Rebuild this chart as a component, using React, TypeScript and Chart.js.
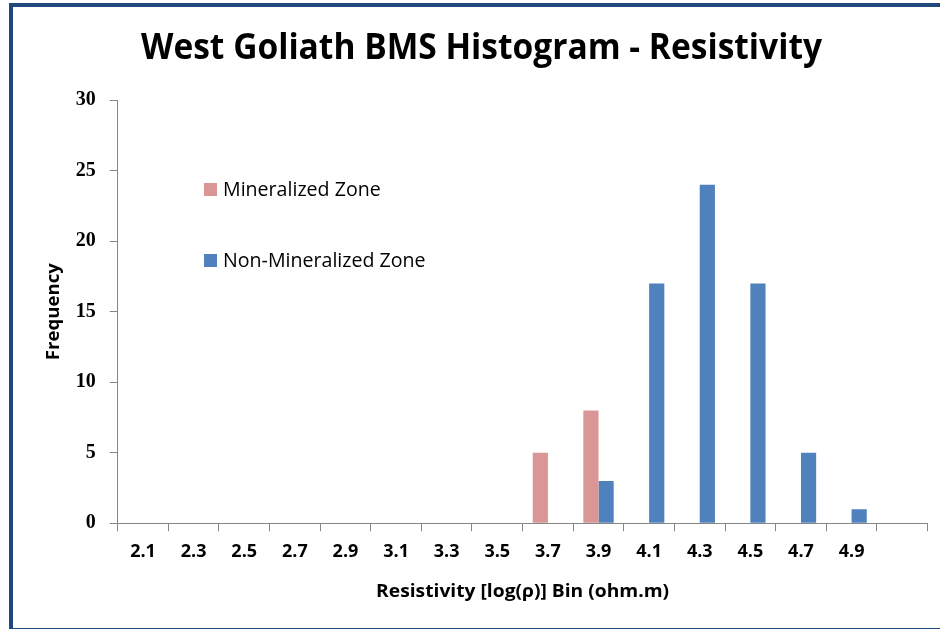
import React, { useEffect, useRef } from 'react';
import { Chart, registerables } from 'chart.js';

Chart.register(...registerables);

const categories = ['2.1', '2.3', '2.5', '2.7', '2.9', '3.1', '3.3', '3.5', '3.7', '3.9', '4.1', '4.3', '4.5', '4.7', '4.9', ''];
const mineralized = [0, 0, 0, 0, 0, 0, 0, 0, 5, 8, 0, 0, 0, 0, 0, 0];
const nonMineralized = [0, 0, 0, 0, 0, 0, 0, 0, 0, 3, 17, 24, 17, 5, 1, 0];
const seriesNames = ['Mineralized Zone', 'Non-Mineralized Zone'];
const seriesColors = ['#D99694', '#4F81BD'];
const yMin = 0;
const yMax = 30;
const yStep = 5;
const chartTitle = 'West Goliath BMS Histogram - Resistivity';
const xTitle = 'Resistivity [log(\u03C1)] Bin (ohm.m)';
const yTitle = 'Frequency';

const AXIS_GRAY = '#868686';

function drawFitted(
  ctx: CanvasRenderingContext2D,
  text: string,
  x: number,
  y: number,
  font: string,
  width: number,
  rotate = 0,
  baseline: CanvasTextBaseline = 'alphabetic'
) {
  ctx.save();
  ctx.font = font;
  const w = ctx.measureText(text).width;
  const s = width / w;
  ctx.translate(x, y);
  if (rotate) ctx.rotate(rotate);
  ctx.scale(s, 1);
  ctx.fillStyle = '#000';
  ctx.textAlign = 'center';
  ctx.textBaseline = baseline;
  ctx.fillText(text, 0, 0);
  ctx.restore();
}

const decorPlugin = {
  id: 'decor',
  afterDraw(chart: any) {
    const ctx: CanvasRenderingContext2D = chart.ctx;
    const area = chart.chartArea;
    // Title
    drawFitted(ctx, chart.options.plugins.decor.title, 481.5, 59, 'bold 35px "Open Sans"', 681);
    // Axis titles
    drawFitted(ctx, chart.options.plugins.decor.xTitle, (area.left + area.right) / 2, 597, 'bold 17px "Open Sans"', 293);
    drawFitted(ctx, chart.options.plugins.decor.yTitle, 54, (area.top + area.bottom) / 2, 'bold 17px "Open Sans"', 97, -Math.PI / 2, 'middle');
    // Legend
    const legendYs = [190, 261];
    chart.data.datasets.forEach((ds: any, i: number) => {
      const cy = legendYs[i];
      ctx.save();
      ctx.fillStyle = ds.backgroundColor;
      ctx.fillRect(204, cy - 7, 13, 13);
      ctx.font = '20px "Open Sans"';
      ctx.fillStyle = '#000';
      ctx.textBaseline = 'middle';
      ctx.textAlign = 'left';
      ctx.translate(223, cy);
      ctx.scale(0.98, 1);
      ctx.fillText(ds.label, 0, 0);
      ctx.restore();
    });
  },
};

export default function App() {
  const ref = useRef<HTMLCanvasElement | null>(null);

  useEffect(() => {
    if (!ref.current) return;
    Chart.defaults.font.family = '"Open Sans", sans-serif';
    const chart = new Chart(ref.current, {
      type: 'bar',
      data: {
        labels: categories,
        datasets: [
          { label: seriesNames[0], data: mineralized, backgroundColor: seriesColors[0], borderWidth: 0 },
          { label: seriesNames[1], data: nonMineralized, backgroundColor: seriesColors[1], borderWidth: 0 },
        ],
      },
      options: {
        responsive: false,
        animation: false,
        events: [],
        layout: { padding: { left: 0, top: 100, right: 12.5, bottom: 0 } },
        datasets: { bar: { categoryPercentage: 0.6, barPercentage: 1.0 } },
        plugins: {
          legend: { display: false },
          title: { display: false },
          tooltip: { enabled: false },
          decor: { title: chartTitle, xTitle: xTitle, yTitle: yTitle },
        } as any,
        scales: {
          x: {
            type: 'category',
            offset: true,
            afterFit: (s: any) => { s.height = 105.7; },
            grid: { offset: true, drawOnChartArea: false, drawTicks: true, tickLength: 8, color: AXIS_GRAY },
            border: { display: true, color: AXIS_GRAY, width: 1 },
            ticks: {
              autoSkip: false,
              maxRotation: 0,
              minRotation: 0,
              padding: 10,
              color: '#000',
              font: { family: '"Open Sans"', size: 18, weight: 'bold' },
            },
          },
          y: {
            min: yMin,
            max: yMax,
            afterFit: (s: any) => { s.width = 117.7; },
            grid: { drawOnChartArea: false, drawTicks: true, tickLength: 8, color: AXIS_GRAY },
            border: { display: true, color: AXIS_GRAY, width: 1 },
            ticks: {
              stepSize: yStep,
              padding: 14,
              color: '#000',
              font: { family: '"Liberation Serif"', size: 20, weight: 'bold' },
            },
          },
        },
      },
      plugins: [decorPlugin],
    });
    return () => chart.destroy();
  }, []);

  return (
    <div style={{ position: 'fixed', left: 0, top: 0, width: 940, height: 629, background: '#fff', overflow: 'hidden' }}>
      <div
        style={{
          position: 'absolute',
          left: 9,
          top: 3,
          width: 960,
          height: 629,
          border: '4px solid #1F497D',
          boxSizing: 'border-box',
        }}
      />
      <canvas ref={ref} width={940} height={629} style={{ position: 'absolute', left: 0, top: 0, width: 940, height: 629 }} />
    </div>
  );
}
